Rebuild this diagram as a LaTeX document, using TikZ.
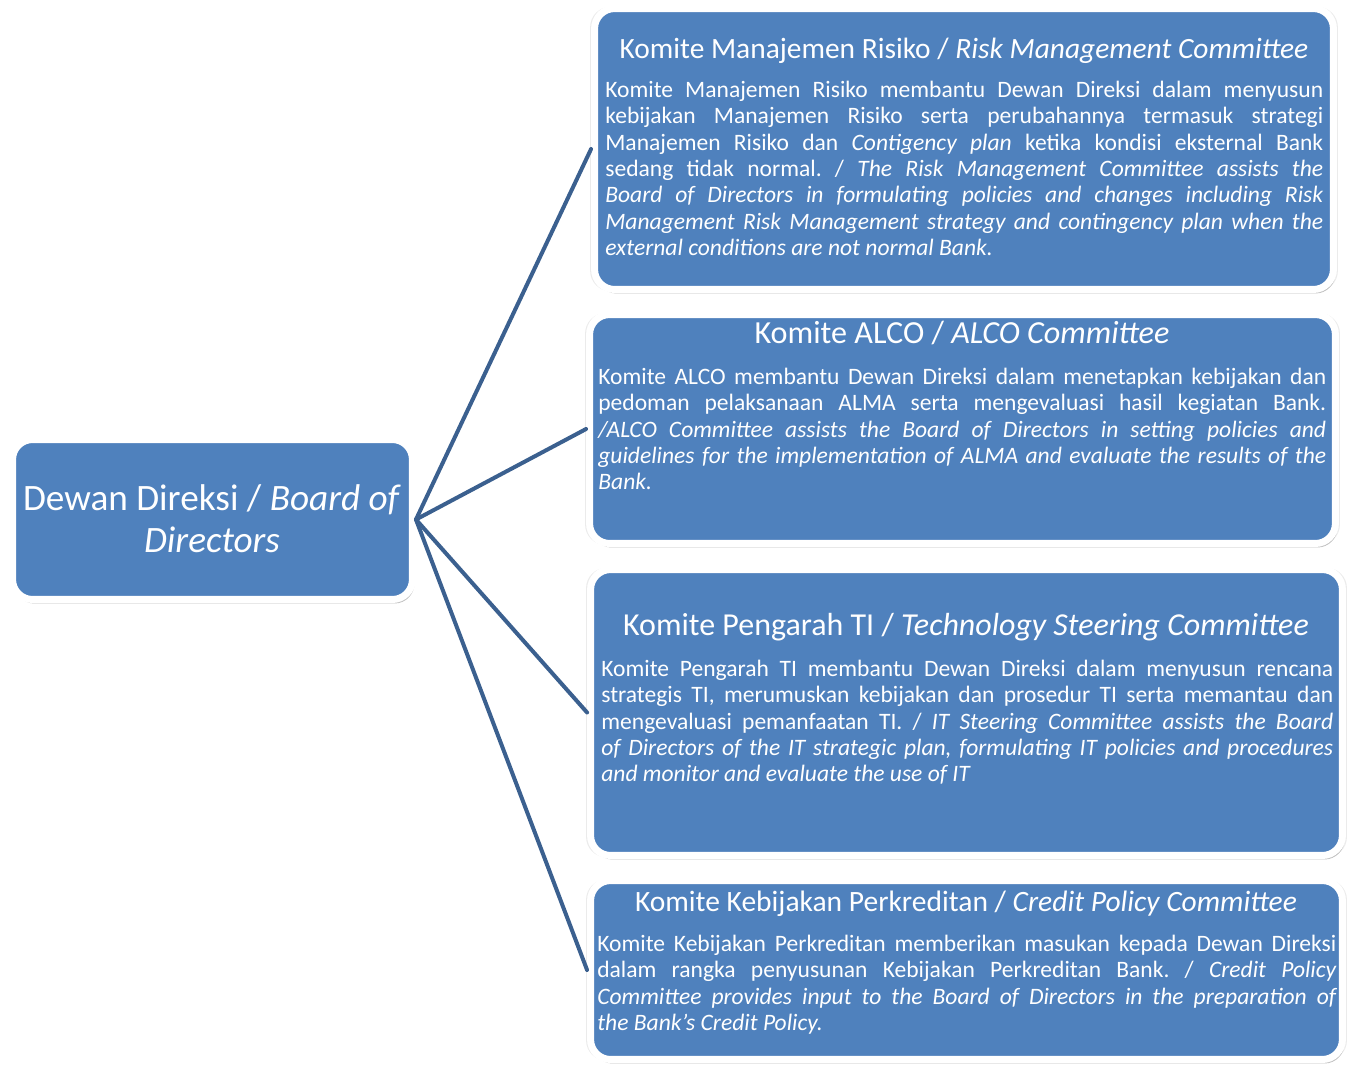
\documentclass[tikz,border=0pt]{standalone}
\usepackage{fontspec}
\setmainfont{Carlito}
\usepackage{tikz}
\usetikzlibrary{shadows}
\definecolor{boxblue}{RGB}{79,129,189}
\definecolor{lineblue}{RGB}{59,96,143}
\frenchspacing
\tolerance=9999
\hyphenpenalty=10000
\tikzset{
  bluebox/.style={draw=white,line width=0.14cm,fill=boxblue,rounded corners=0.4cm,inner sep=0pt,
    general shadow={shadow scale=1.012,opacity=0.08,fill=black},
    drop shadow={shadow xshift=0.04cm,shadow yshift=-0.08cm,opacity=0.25,fill=black}},
  boxtitle/.style={text=white,inner sep=0pt,anchor=base},
  boxtext/.style={text=white,inner sep=0pt,anchor=base west,align=justify,font=\fontsize{13.4}{15}\selectfont},
  connector/.style={draw=lineblue,line width=0.08cm}
}
\begin{document}
\begin{tikzpicture}[line cap=round,line join=round,x=0.02cm,y=-0.02cm]
\useasboundingbox (0,0) rectangle (1347,1066);
% boxes
\node[bluebox,minimum width=8cm,minimum height=3.2cm] (board) at (212.5,519.5) {};
\node[bluebox,minimum width=14.78cm,minimum height=5.62cm] (risk) at (964,149) {};
\node[bluebox,minimum width=14.92cm,minimum height=4.58cm] (alco) at (962.5,429) {};
\node[bluebox,minimum width=15.04cm,minimum height=5.72cm] (tech) at (966.5,712.5) {};
\node[bluebox,minimum width=15.04cm,minimum height=3.58cm] (credit) at (966.5,970) {};
% connectors
\draw[connector] (board.east) -- (risk.west);
\draw[connector] (board.east) -- (alco.west);
\draw[connector] (board.east) -- (tech.west);
\draw[connector] (board.east) -- (credit.west);
% board text
\node[text=white,align=center,font=\fontsize{21.2}{23.9}\selectfont] (boardlabel) at (212,519)
  {Dewan Direksi / \textit{Board of}\\\textit{Directors}};
% risk
\node[boxtitle,font=\fontsize{16.75}{19}\selectfont] (risktitle) at (964,58.5)
  {Komite Manajemen Risiko / \textit{Risk Management Committee}};
\node[boxtext,text width=14.36cm] (risktext) at (605,97.5)
  {Komite Manajemen Risiko membantu Dewan Direksi dalam menyusun\linebreak
   kebijakan Manajemen Risiko serta perubahannya termasuk strategi\linebreak
   Manajemen Risiko dan \textit{Contigency plan} ketika kondisi eksternal Bank\linebreak
   sedang tidak normal. / \textit{The Risk Management Committee assists the\linebreak
   Board of Directors in formulating policies and changes including Risk\linebreak
   Management Risk Management strategy and contingency plan when the\linebreak
   external conditions are not normal Bank.}};
% alco
\node[boxtitle,font=\fontsize{18.3}{21}\selectfont] (alcotitle) at (962,343.4)
  {Komite ALCO / \textit{ALCO Committee}};
\node[boxtext,text width=14.56cm] (alcotext) at (598,384.5)
  {Komite ALCO membantu Dewan Direksi dalam menetapkan kebijakan dan\linebreak
   pedoman pelaksanaan ALMA serta mengevaluasi hasil kegiatan Bank.\linebreak
   \textit{/ALCO Committee assists the Board of Directors in setting policies and\linebreak
   guidelines for the implementation of ALMA and evaluate the results of the\linebreak
   Bank.}};
% tech
\node[boxtitle,font=\fontsize{18.2}{21}\selectfont] (techtitle) at (966,635.3)
  {Komite Pengarah TI / \textit{Technology Steering Committee}};
\node[boxtext,text width=14.64cm] (techtext) at (601,676.5)
  {Komite Pengarah TI membantu Dewan Direksi dalam menyusun rencana\linebreak
   strategis TI, merumuskan kebijakan dan prosedur TI serta memantau dan\linebreak
   mengevaluasi pemanfaatan TI. / \textit{IT Steering Committee assists the Board\linebreak
   of Directors of the IT strategic plan, formulating IT policies and procedures\linebreak
   and monitor and evaluate the use of IT}};
% credit
\node[boxtitle,font=\fontsize{16.8}{19}\selectfont] (credittitle) at (966,911.5)
  {Komite Kebijakan Perkreditan / \textit{Credit Policy Committee}};
\node[boxtext,text width=14.78cm] (credittext) at (597,951.5)
  {Komite Kebijakan Perkreditan memberikan masukan kepada Dewan Direksi\linebreak
   dalam rangka penyusunan Kebijakan Perkreditan Bank. / \textit{Credit Policy\linebreak
   Committee provides input to the Board of Directors in the preparation of\linebreak
   the Bank's Credit Policy.}};
\end{tikzpicture}
\end{document}
